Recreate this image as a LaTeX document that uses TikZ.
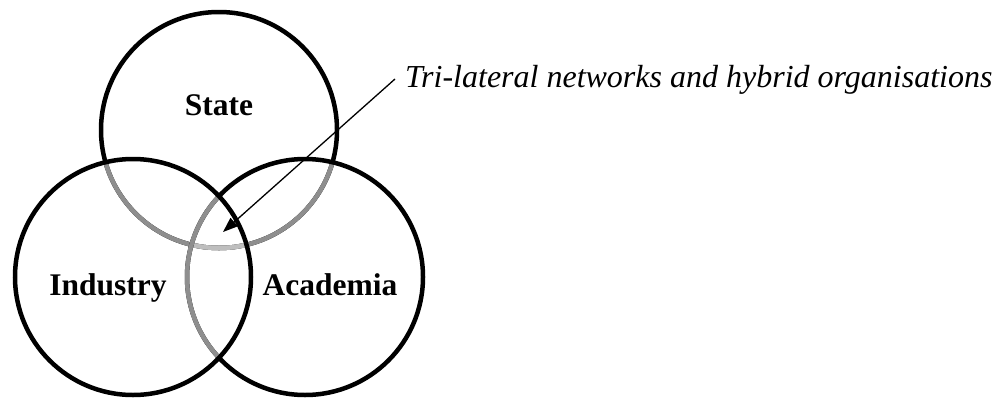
\documentclass[tikz,border=0pt]{standalone}
\usepackage{fontspec}
\setmainfont{Liberation Serif}
\usetikzlibrary{arrows.meta}
\definecolor{hatchdark}{HTML}{8E8E8E}
\definecolor{hatchlight}{HTML}{BEBEBE}
\begin{document}
\begin{tikzpicture}[x=1pt,y=-1pt,
  ring/.style={line width=4.5pt,draw=black},
  ringgrey/.style={line width=4.5pt,draw=hatchdark},
  ringlight/.style={line width=4.5pt,draw=hatchlight},
  sector/.style={font=\fontsize{31.5}{36}\selectfont\bfseries,inner sep=0pt,anchor=base},
  note/.style={font=\fontsize{32}{36}\selectfont\itshape,inner sep=0pt,anchor=base west},
  pointer/.style={line width=1.3pt,-{Triangle[length=15pt,width=11pt]}}]
\useasboundingbox (0,0) rectangle (999,399);
% centres and radius of the three spheres
\def\rad{118}
\coordinate (cS) at (219,130);
\coordinate (cI) at (133,277);
\coordinate (cA) at (305,277);
% State
\draw[ring] (cS) circle (\rad);
\begin{scope}
  \clip (cI) circle (\rad);
  \draw[ringgrey] (cS) circle (\rad);
\end{scope}
\begin{scope}
  \clip (cA) circle (\rad);
  \draw[ringgrey] (cS) circle (\rad);
\end{scope}
\begin{scope}
  \clip (cI) circle (\rad);
  \clip (cA) circle (\rad);
  \draw[ringlight] (cS) circle (\rad);
\end{scope}
% Academia
\draw[ring] (cA) circle (\rad);
\begin{scope}
  \clip (cI) circle (\rad);
  \draw[ringgrey] (cA) circle (\rad);
\end{scope}
% Industry
\draw[ring] (cI) circle (\rad);
% labels
\node[sector] (state) at (219,115) {State};
\node[sector] (industry) at (108,295) {Industry};
\node[sector] (academia) at (330,295) {Academia};
\node[note] (lbl) at (405,87) {Tri-lateral networks and hybrid organisations};
% pointer into the common core
\coordinate (src) at (395,79);
\coordinate (core) at (223,232);
\draw[pointer] (src) -- (core);
\end{tikzpicture}
\end{document}
